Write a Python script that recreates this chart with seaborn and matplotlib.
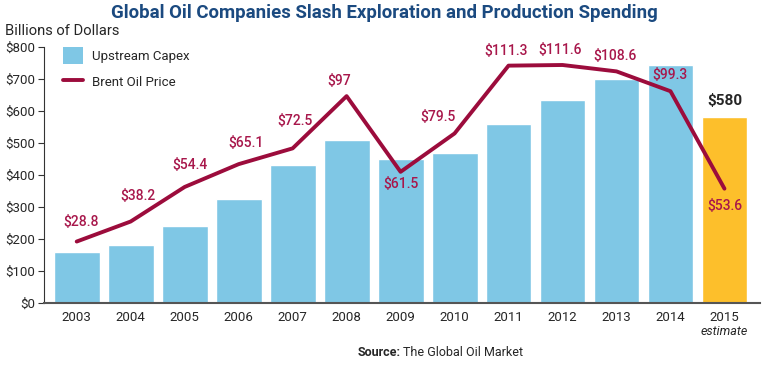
import matplotlib
matplotlib.use('Agg')
import matplotlib.pyplot as plt
from matplotlib.patches import Patch
from matplotlib.lines import Line2D
import seaborn as sns
import pandas as pd

# Data
years = ['2003', '2004', '2005', '2006', '2007', '2008', '2009',
         '2010', '2011', '2012', '2013', '2014', '2015']
capex = [160, 180, 240, 325, 430, 510, 450, 470, 560, 635, 700, 745, 580]
brent = [28.8, 38.2, 54.4, 65.1, 72.5, 97, 61.5, 79.5, 111.3, 111.6, 108.6, 99.3, 53.6]
brent_labels = ['$28.8', '$38.2', '$54.4', '$65.1', '$72.5', '$97', '$61.5',
                '$79.5', '$111.3', '$111.6', '$108.6', '$99.3', '$53.6']
yticks = [0, 100, 200, 300, 400, 500, 600, 700, 800]

blue = '#7fc7e5'
gold = '#fdbf2b'
red = '#9c0c3c'
label_red = '#a8174b'

df = pd.DataFrame({'year': years, 'capex': capex, 'brent': brent})
bar_colors = {y: blue for y in years}
bar_colors['2015'] = gold

sns.set_style('white')
plt.rcParams['font.family'] = ['Roboto', 'DejaVu Sans']

fig = plt.figure(figsize=(7.68, 3.65), dpi=100)
ax = fig.add_axes([0.057, 0.170, 0.932, 0.701])

sns.barplot(data=df, x='year', y='capex', hue='year', palette=bar_colors,
            legend=False, width=0.85, saturation=1, ax=ax)
ax.set_xlim(-0.61, 12.65)
ax.set_ylim(0, 800)
ax.set_yticks(yticks)
ax.set_yticklabels([f'${v}' for v in yticks])
ax.set_xlabel('')
ax.set_ylabel('')
for s in ['top', 'right']:
    ax.spines[s].set_visible(False)
ax.spines['left'].set_color('#333333')
ax.spines['bottom'].set_color('#555555')
ax.spines['bottom'].set_linewidth(1.5)
ax.tick_params(axis='y', length=4, color='#333333', labelsize=9.5, pad=2)
ax.tick_params(axis='x', length=0, labelsize=9.5, pad=6)
ax.text(12, -68, 'estimate', fontsize=9, style='italic', ha='center', va='top')

# Brent price on a hidden secondary scale
ax2 = ax.twinx()
ax2.set_ylim(0, 120)
sns.lineplot(x=list(range(len(years))), y=brent, color=red, linewidth=2.8, ax=ax2)
ax2.axis('off')

# label offsets in pixels (dx, dy)
offsets = [(4, 20), (7, 25), (5, 22), (7, 21), (2, 27), (-7, 15), (0, -12),
           (-17, 16), (-2, 15), (-2, 15), (-1, 15), (-1, 16), (0, -17)]
for i, (v, lab) in enumerate(zip(brent, brent_labels)):
    dx, dy = offsets[i]
    ax2.annotate(lab, (i, v), xytext=(dx * 0.72, dy * 0.72), textcoords='offset points',
                 ha='center', va='center', color=label_red, fontsize=10,
                 fontweight='medium')
ax.annotate('$580', (12, capex[12]), xytext=(0, 12), textcoords='offset points',
            ha='center', va='center', fontsize=11, fontweight='bold')

handles = [Patch(facecolor=blue, edgecolor='none', label='Upstream Capex'),
           Line2D([0], [0], color=red, linewidth=2.8, label='Brent Oil Price')]
ax.legend(handles=handles, loc='upper left', bbox_to_anchor=(0.01, 1.045),
          frameon=False, fontsize=9.5, handlelength=1.5, handleheight=1.5,
          handletextpad=0.7, labelspacing=0.75)

fig.text(0.5, 0.965, 'Global Oil Companies Slash Exploration and Production Spending',
         ha='center', va='center', fontsize=13.4, fontweight='bold', color='#1b4a80')
fig.text(0.006, 0.915, 'Billions of Dollars', ha='left', va='center', fontsize=10.6)
fig.text(0.522, 0.035, 'Source:', ha='right', va='center', fontsize=9, fontweight='bold')
fig.text(0.525, 0.035, 'The Global Oil Market', ha='left', va='center', fontsize=9)

fig.savefig('out.png', dpi=100)
